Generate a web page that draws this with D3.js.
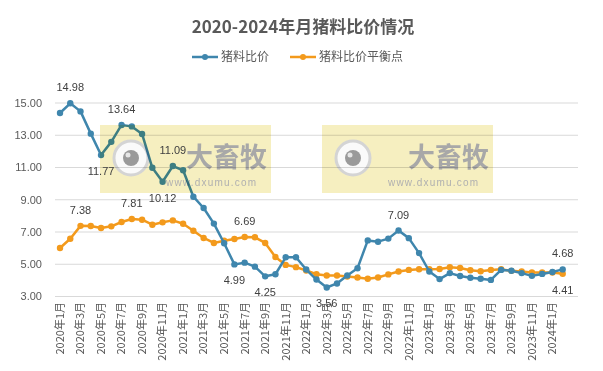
<!DOCTYPE html>
<html>
<head>
<meta charset="utf-8">
<script src="https://cdn.jsdelivr.net/npm/d3@7/dist/d3.min.js"></script>
<style>
  body { margin: 0; background: #fff; }
  svg { display: block; }
</style>
</head>
<body>
<svg id="chart"></svg>
<script>
const months = [
  '2020年1月','2020年2月','2020年3月','2020年4月','2020年5月','2020年6月','2020年7月','2020年8月','2020年9月','2020年10月','2020年11月','2020年12月',
  '2021年1月','2021年2月','2021年3月','2021年4月','2021年5月','2021年6月','2021年7月','2021年8月','2021年9月','2021年10月','2021年11月','2021年12月',
  '2022年1月','2022年2月','2022年3月','2022年4月','2022年5月','2022年6月','2022年7月','2022年8月','2022年9月','2022年10月','2022年11月','2022年12月',
  '2023年1月','2023年2月','2023年3月','2023年4月','2023年5月','2023年6月','2023年7月','2023年8月','2023年9月','2023年10月','2023年11月','2023年12月',
  '2024年1月','2024年2月'
];

// 猪料比价
const ratio = [14.38, 14.98, 14.48, 13.10, 11.77, 12.59, 13.64, 13.55, 13.08, 10.98, 10.12, 11.09,
  10.83, 9.19, 8.49, 7.52, 6.30, 4.99, 5.10, 4.85, 4.25, 4.38, 5.43, 5.43,
  4.67, 4.05, 3.56, 3.81, 4.30, 4.75, 6.48, 6.40, 6.59, 7.09, 6.62, 5.69,
  4.55, 4.08, 4.45, 4.27, 4.16, 4.10, 4.03, 4.65, 4.60, 4.45, 4.28, 4.40,
  4.52, 4.68];

// 猪料比价平衡点
const balance = [6.01, 6.58, 7.38, 7.37, 7.25, 7.35, 7.62, 7.81, 7.76, 7.45, 7.60, 7.72,
  7.51, 7.08, 6.63, 6.32, 6.46, 6.57, 6.69, 6.67, 6.32, 5.45, 4.96, 4.82,
  4.61, 4.38, 4.30, 4.30, 4.24, 4.18, 4.10, 4.18, 4.37, 4.55, 4.65, 4.69,
  4.69, 4.71, 4.82, 4.77, 4.63, 4.57, 4.65, 4.69, 4.59, 4.55, 4.49, 4.49,
  4.49, 4.41];

const yTicks = [3, 5, 7, 9, 11, 13, 15];
const xTickLabels = months.filter((m, i) => i % 2 === 0);

// which points carry a value label, and on which side
const ratioLabels = [[1, 'up'], [4, 'down'], [6, 'up'], [10, 'down'], [11, 'up'], [17, 'down'], [20, 'down'], [26, 'down'], [33, 'up'], [49, 'up']];
const balanceLabels = [[2, 'up'], [7, 'up'], [18, 'up'], [49, 'down']];

const width = 603, height = 371;
const blue = '#3f86ad', orange = '#f39a1c';
const numFont = '"Liberation Sans", Arial, sans-serif';
const cjkFont = '"Noto Sans CJK SC", "Liberation Sans", sans-serif';

const svg = d3.select('#chart').attr('width', width).attr('height', height);

const x = d3.scalePoint().domain(months).range([60, 562.7]);
const y = d3.scaleLinear().domain([3, 15]).range([296.5, 103]);

// title
svg.append('text')
  .attr('x', 303).attr('y', 33)
  .attr('text-anchor', 'middle')
  .style('font-family', cjkFont)
  .style('font-size', '17px')
  .style('font-weight', 'bold')
  .style('fill', '#595959')
  .text('2020-2024年月猪料比价情况');

// legend
const legend = [
  { name: '猪料比价', color: blue, x0: 192 },
  { name: '猪料比价平衡点', color: orange, x0: 290 }
];
const lg = svg.append('g').selectAll('g').data(legend).join('g');
lg.append('line')
  .attr('x1', d => d.x0).attr('x2', d => d.x0 + 26)
  .attr('y1', 57).attr('y2', 57)
  .attr('stroke', d => d.color).attr('stroke-width', 2.5);
lg.append('circle')
  .attr('cx', d => d.x0 + 13).attr('cy', 57).attr('r', 3)
  .attr('fill', d => d.color);
lg.append('text')
  .attr('x', d => d.x0 + 29).attr('y', 57).attr('dy', '0.35em')
  .style('font-family', cjkFont).style('font-size', '12px').style('fill', '#595959')
  .text(d => d.name);

// gridlines + y labels
svg.append('g').selectAll('line').data(yTicks).join('line')
  .attr('x1', 55).attr('x2', 578)
  .attr('y1', d => y(d)).attr('y2', d => y(d))
  .attr('stroke', '#d9d9d9').attr('stroke-width', 1);

svg.append('g').selectAll('text').data(yTicks).join('text')
  .attr('x', 42).attr('y', d => y(d)).attr('dy', '0.35em')
  .attr('text-anchor', 'end')
  .style('font-family', numFont).style('font-size', '11px').style('fill', '#595959')
  .text(d => d.toFixed(2));

// x labels, rotated
svg.append('g').selectAll('text').data(xTickLabels).join('text')
  .attr('transform', d => `translate(${x(d)},302) rotate(-90)`)
  .attr('dy', '0.35em')
  .attr('text-anchor', 'end')
  .style('font-family', cjkFont).style('font-size', '11px').style('fill', '#595959')
  .text(d => d);

// series
function drawSeries(values, color) {
  const line = d3.line().x((d, i) => x(months[i])).y(d => y(d));
  svg.append('path')
    .datum(values)
    .attr('d', line)
    .attr('fill', 'none')
    .attr('stroke', color)
    .attr('stroke-width', 2.5)
    .attr('stroke-linejoin', 'round');
  svg.append('g').selectAll('circle').data(values).join('circle')
    .attr('cx', (d, i) => x(months[i]))
    .attr('cy', d => y(d))
    .attr('r', 3.2)
    .attr('fill', color);
}
drawSeries(balance, orange);
drawSeries(ratio, blue);

// watermark
const marks = [{ x0: 100 }, { x0: 322 }];
const wm = svg.append('g').style('mix-blend-mode', 'multiply')
  .selectAll('g').data(marks).join('g')
  .attr('transform', d => `translate(${d.x0},125)`);
wm.append('rect').attr('width', 171).attr('height', 68).attr('fill', '#f6efc0');
wm.append('circle').attr('cx', 31).attr('cy', 33).attr('r', 17)
  .attr('fill', '#fafafa').attr('stroke', '#d4d4d4').attr('stroke-width', 3);
wm.append('circle').attr('cx', 31).attr('cy', 33).attr('r', 8).attr('fill', '#9a9a9a');
wm.append('circle').attr('cx', 28).attr('cy', 30).attr('r', 2.5).attr('fill', '#e6e6e6');
wm.append('text')
  .attr('x', 86).attr('y', 42)
  .style('font-family', cjkFont).style('font-size', '27px').style('font-weight', 'bold')
  .style('fill', '#a8a8a8')
  .text('大畜牧');
wm.append('text')
  .attr('x', 66).attr('y', 61)
  .style('font-family', numFont).style('font-size', '10px')
  .style('fill', '#b0b0b0').style('letter-spacing', '1.2px')
  .text('www.dxumu.com');

// value labels
function drawLabels(values, spec) {
  svg.append('g').selectAll('text').data(spec).join('text')
    .attr('x', d => x(months[d[0]]))
    .attr('y', d => y(values[d[0]]) + (d[1] === 'up' ? -12 : 20))
    .attr('text-anchor', 'middle')
    .style('font-family', numFont).style('font-size', '11px').style('fill', '#404040')
    .text(d => values[d[0]].toFixed(2));
}
drawLabels(ratio, ratioLabels);
drawLabels(balance, balanceLabels);
</script>
</body>
</html>
